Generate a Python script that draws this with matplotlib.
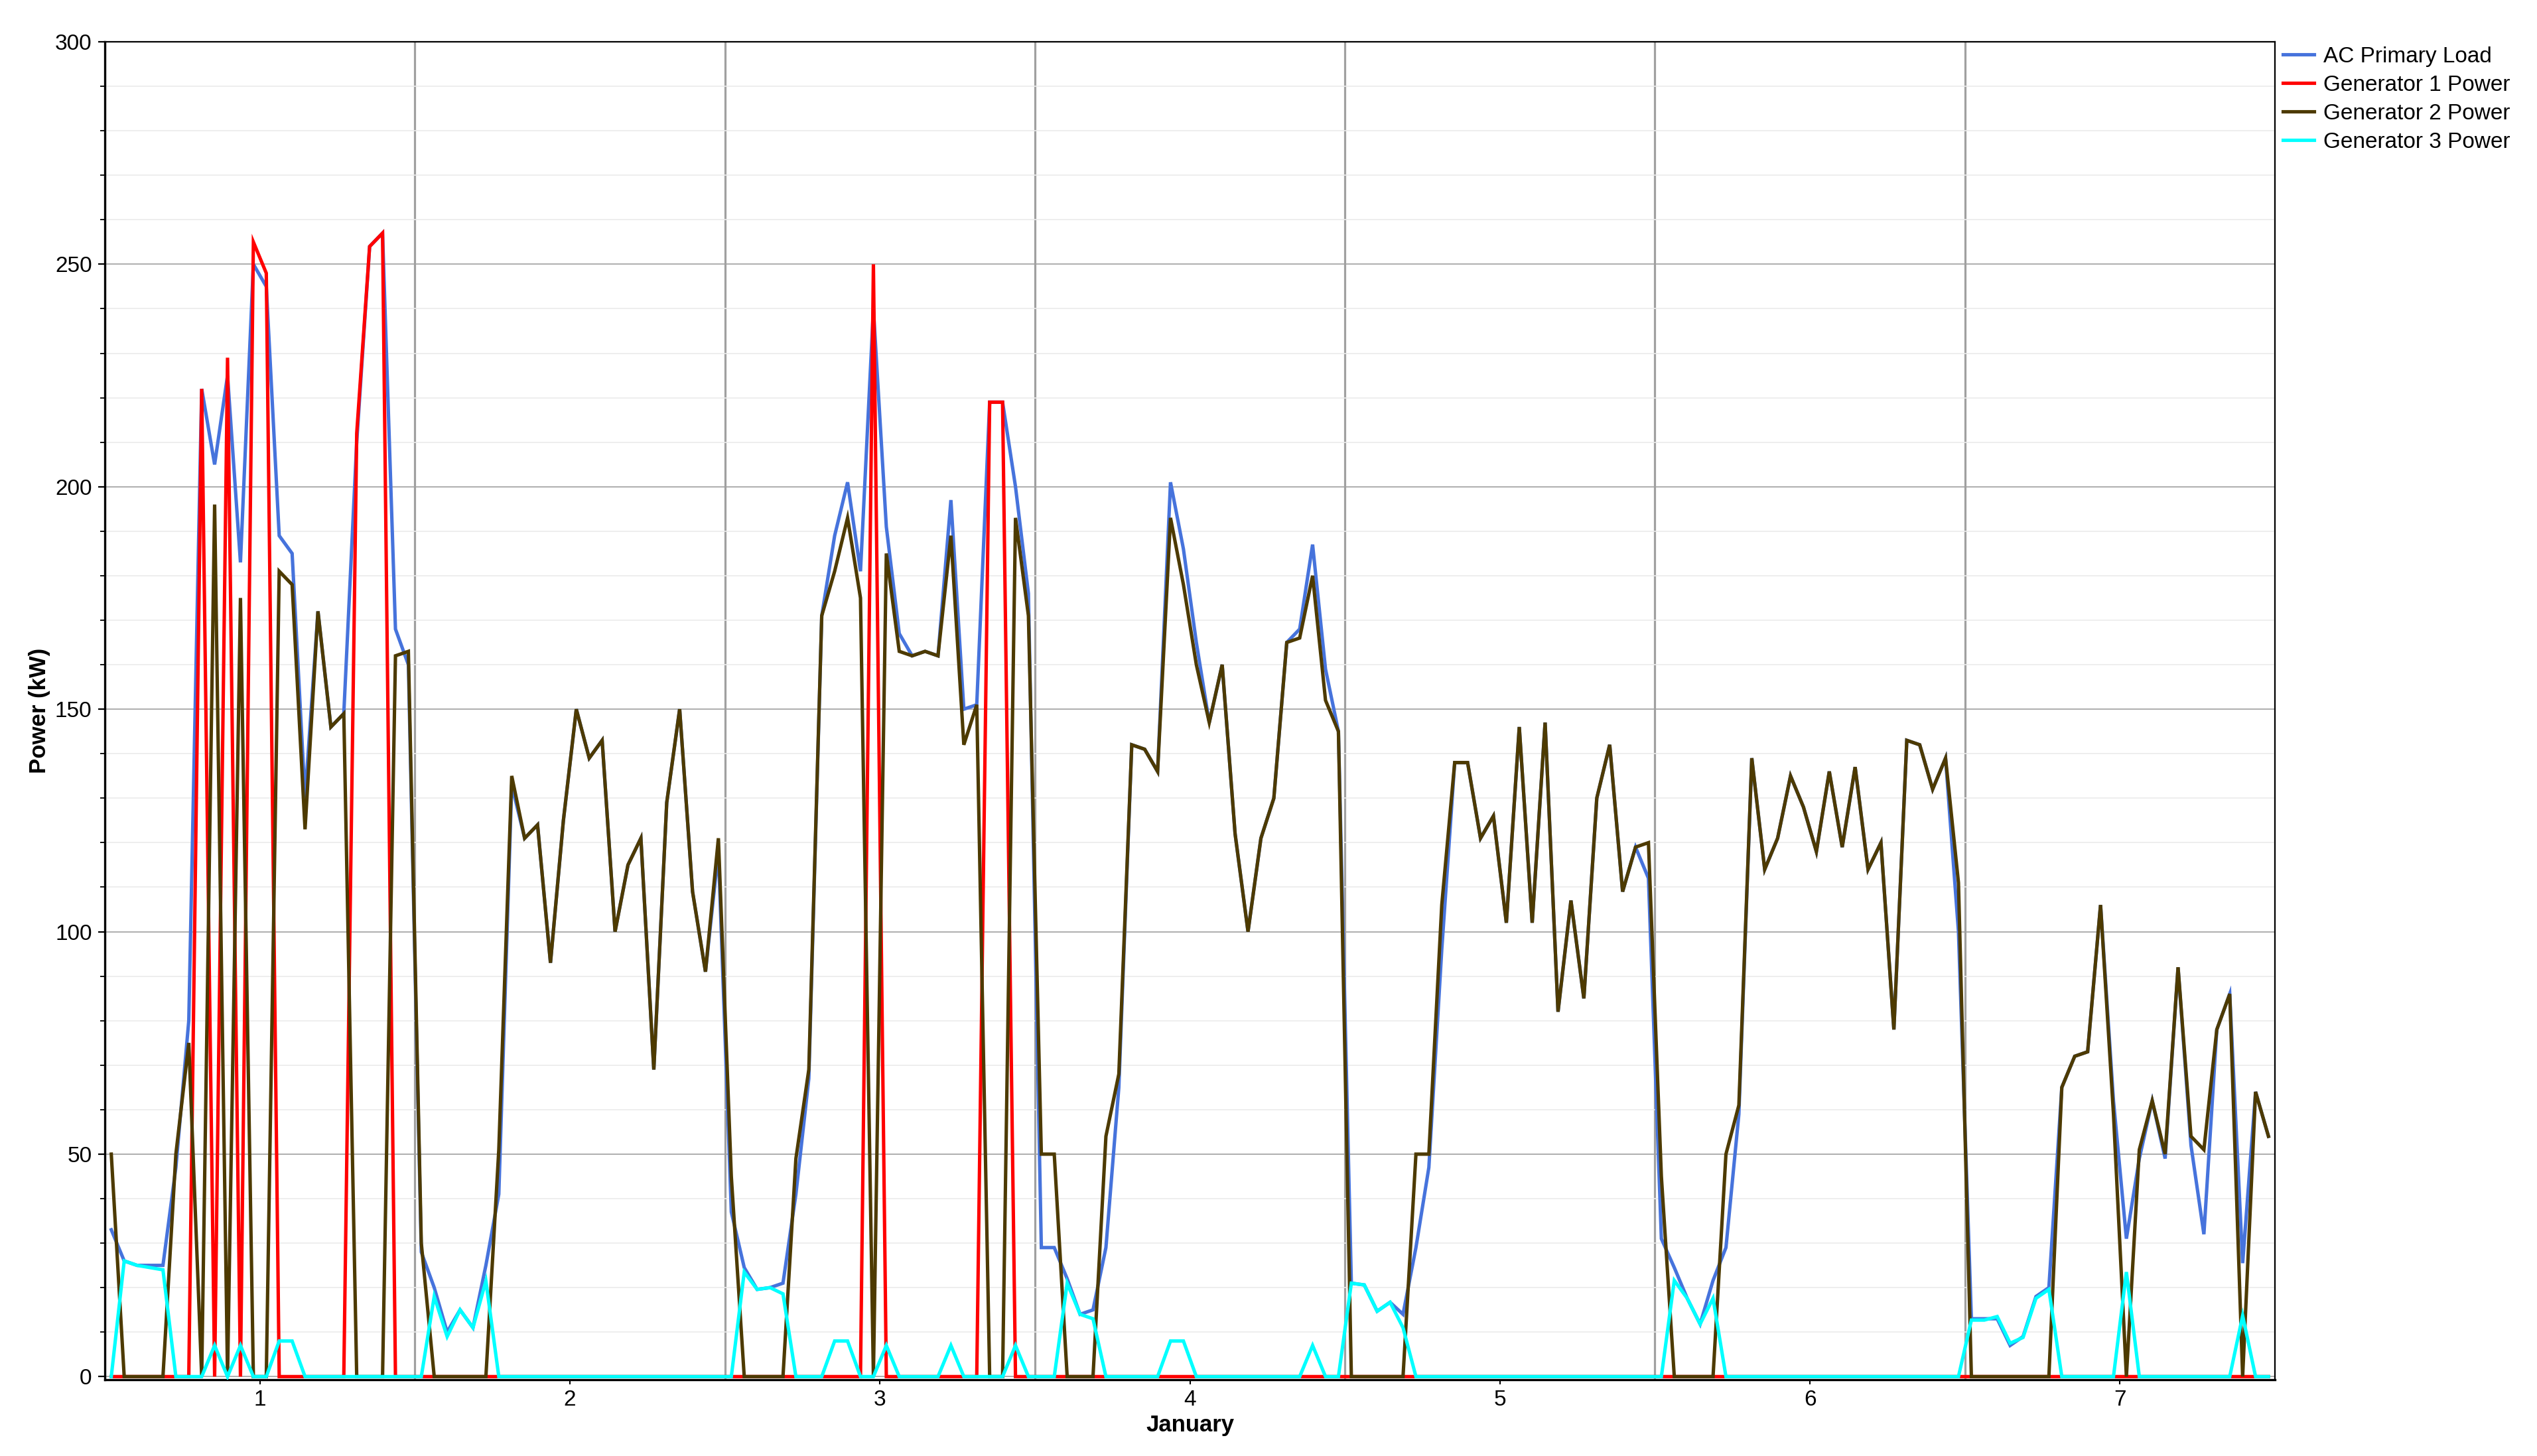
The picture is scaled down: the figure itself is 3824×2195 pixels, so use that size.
import numpy as np
import matplotlib
matplotlib.use("Agg")
import matplotlib.pyplot as plt
from matplotlib.ticker import MultipleLocator

# ---------------- data (hourly, 7 days x 24 h) ----------------
series_names = ["AC Primary Load", "Generator 1 Power", "Generator 2 Power", "Generator 3 Power"]
day_labels = ["1", "2", "3", "4", "5", "6", "7"]
x_label = "January"
y_label = "Power (kW)"

ac_primary_load = [
    33, 26, 25, 25, 25, 47, 80, 222, 205, 225, 183, 250, 245, 189, 185, 130, 172, 146, 149, 210, 254, 257, 168, 160,
    28, 20, 10, 15, 11, 25, 41, 133, 121, 124, 93, 125, 150, 139, 143, 100, 115, 121, 69, 129, 150, 109, 91, 118,
    37, 24.5, 19.6, 20, 21, 41, 67, 171, 189, 201, 181, 240, 191, 167, 162, 163, 162, 197, 150, 151, 219, 219, 200, 176,
    29, 29, 22, 14, 15, 29, 65, 142, 141, 136, 201, 186, 165, 147, 160, 122, 100, 121, 130, 165, 168, 187, 159, 145,
    21, 20.6, 14.7, 16.7, 14, 29, 47, 96, 138, 138, 121, 126, 102, 146, 102, 147, 82, 107, 85, 130, 142, 109, 119, 112,
    31, 24.5, 17.6, 11.8, 21.6, 29, 59, 139, 114, 121, 135, 128, 118, 136, 119, 137, 114, 120, 78, 143, 142, 132, 139, 100,
    13, 13, 13, 7, 9, 18, 20, 65, 72, 73, 106, 62, 31, 49, 62, 49, 92, 52, 32, 78, 86, 25.5, 64, 54,
]

generator_1 = [
    0, 0, 0, 0, 0, 0, 0, 222, 0, 229, 0, 255, 248, 0, 0, 0, 0, 0, 0, 212, 254, 257, 0, 0,
    0, 0, 0, 0, 0, 0, 0, 0, 0, 0, 0, 0, 0, 0, 0, 0, 0, 0, 0, 0, 0, 0, 0, 0,
    0, 0, 0, 0, 0, 0, 0, 0, 0, 0, 0, 250, 0, 0, 0, 0, 0, 0, 0, 0, 219, 219, 0, 0,
    0, 0, 0, 0, 0, 0, 0, 0, 0, 0, 0, 0, 0, 0, 0, 0, 0, 0, 0, 0, 0, 0, 0, 0,
    0, 0, 0, 0, 0, 0, 0, 0, 0, 0, 0, 0, 0, 0, 0, 0, 0, 0, 0, 0, 0, 0, 0, 0,
    0, 0, 0, 0, 0, 0, 0, 0, 0, 0, 0, 0, 0, 0, 0, 0, 0, 0, 0, 0, 0, 0, 0, 0,
    0, 0, 0, 0, 0, 0, 0, 0, 0, 0, 0, 0, 0, 0, 0, 0, 0, 0, 0, 0, 0, 0, 0, 0,
]

generator_2 = [
    50, 0, 0, 0, 0, 50, 75, 0, 196, 0, 175, 0, 0, 181, 178, 123, 172, 146, 149, 0, 0, 0, 162, 163,
    30, 0, 0, 0, 0, 0, 51, 135, 121, 124, 93, 125, 150, 139, 143, 100, 115, 121, 69, 129, 150, 109, 91, 121,
    45, 0, 0, 0, 0, 49, 69, 171, 181, 193, 175, 0, 185, 163, 162, 163, 162, 189, 142, 151, 0, 0, 193, 171,
    50, 50, 0, 0, 0, 54, 68, 142, 141, 136, 193, 178, 160, 147, 160, 122, 100, 121, 130, 165, 166, 180, 152, 145,
    0, 0, 0, 0, 0, 50, 50, 106, 138, 138, 121, 126, 102, 146, 102, 147, 82, 107, 85, 130, 142, 109, 119, 120,
    45, 0, 0, 0, 0, 50, 61, 139, 114, 121, 135, 128, 118, 136, 119, 137, 114, 120, 78, 143, 142, 132, 139, 111,
    0, 0, 0, 0, 0, 0, 0, 65, 72, 73, 106, 59, 0, 51, 62, 50, 92, 54, 51, 78, 86, 0, 64, 54,
]

generator_3 = [
    0, 26, 25, 24.5, 24, 0, 0, 0, 7, 0, 7, 0, 0, 8, 8, 0, 0, 0, 0, 0, 0, 0, 0, 0,
    0, 18, 9, 15, 11, 21.5, 0, 0, 0, 0, 0, 0, 0, 0, 0, 0, 0, 0, 0, 0, 0, 0, 0, 0,
    0, 23.5, 19.6, 20, 18.6, 0, 0, 0, 8, 8, 0, 0, 7, 0, 0, 0, 0, 7, 0, 0, 0, 0, 7, 0,
    0, 0, 21, 14, 13, 0, 0, 0, 0, 0, 8, 8, 0, 0, 0, 0, 0, 0, 0, 0, 0, 7, 0, 0,
    21, 20.6, 14.7, 16.7, 11, 0, 0, 0, 0, 0, 0, 0, 0, 0, 0, 0, 0, 0, 0, 0, 0, 0, 0, 0,
    0, 21.6, 17.6, 11.8, 17.6, 0, 0, 0, 0, 0, 0, 0, 0, 0, 0, 0, 0, 0, 0, 0, 0, 0, 0, 0,
    12.7, 12.7, 13.5, 7.5, 8.8, 17.6, 19.6, 0, 0, 0, 0, 0, 23.5, 0, 0, 0, 0, 0, 0, 0, 0, 13.7, 0, 0,
]

series_colors = ["#4673DC", "#FF0000", "#4D3A00", "#00FFFF"]

# ---------------- figure ----------------
W, H = 3824, 2195
DPI = 100
plt.rcParams["font.family"] = ["Liberation Sans", "DejaVu Sans"]

fig = plt.figure(figsize=(W / DPI, H / DPI), dpi=DPI)
fig.patch.set_facecolor("white")
L, R, T, B = 158, 3429, 63, 2080
ax = fig.add_axes([L / W, 1 - B / H, (R - L) / W, (B - T) / H])

n_hours = len(ac_primary_load)
x_days = (np.arange(n_hours) + 0.5) / 24.0

lw = 3.7
for vals, name, col in zip([ac_primary_load, generator_1, generator_2, generator_3],
                           series_names, series_colors):
    ax.plot(x_days, vals, color=col, lw=lw, label=name, solid_joinstyle="miter")

ax.set_xlim(0, 7)
ax.set_ylim(-0.7, 300)

# x ticks: labels at mid-day, grid at day boundaries
ax.set_xticks(np.arange(len(day_labels)) + 0.5)
ax.set_xticklabels(day_labels)
ax.xaxis.set_minor_locator(MultipleLocator(1))
ax.tick_params(axis="x", which="minor", length=0)
ax.tick_params(axis="x", which="major", length=5, width=1.5, pad=6, labelsize=24, color="black")

ax.yaxis.set_major_locator(MultipleLocator(50))
ax.yaxis.set_minor_locator(MultipleLocator(10))
ax.tick_params(axis="y", which="major", length=7, width=1.6, pad=7, labelsize=24)
ax.tick_params(axis="y", which="minor", length=5, width=1.3)

ax.grid(which="minor", axis="x", color="#a0a0a0", lw=2.3)
ax.grid(which="major", axis="y", color="#a0a0a0", lw=1.2)
ax.grid(which="minor", axis="y", color="#ebebeb", lw=1.2)
ax.set_axisbelow(True)

for side in ["left", "bottom"]:
    ax.spines[side].set_linewidth(2.4)
for side in ["top", "right"]:
    ax.spines[side].set_linewidth(1.6)
for sp in ax.spines.values():
    sp.set_color("black")
    sp.set_zorder(1.5)

ax.set_xlabel(x_label, fontsize=25, fontweight="bold", labelpad=4)
ax.set_ylabel(y_label, fontsize=25, fontweight="bold", labelpad=5)

fig.legend(loc="upper left", bbox_to_anchor=(3441 / W, 1 - 70 / H),
           frameon=False, borderpad=0, borderaxespad=0,
           handlelength=1.4, handletextpad=0.42, labelspacing=0.36,
           fontsize=24)

fig.savefig("out.png", dpi=DPI, facecolor="white")
